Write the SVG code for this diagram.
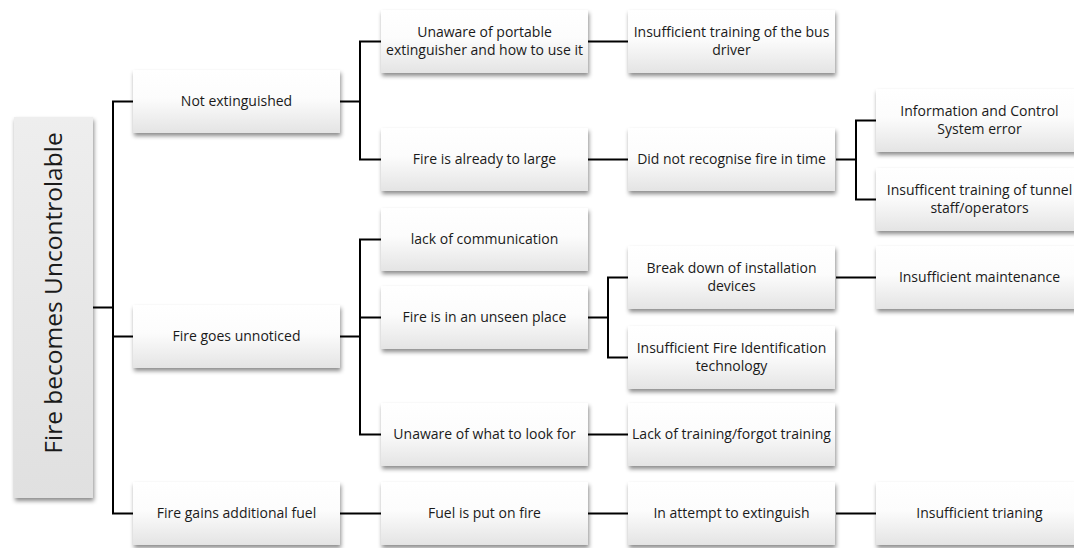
<svg xmlns="http://www.w3.org/2000/svg" width="1074" height="548" viewBox="0 0 1074 548">
<defs>
<linearGradient id="g" x1="0" y1="0" x2="0" y2="1">
<stop offset="0" stop-color="#ffffff"/>
<stop offset="0.45" stop-color="#fcfcfc"/>
<stop offset="1" stop-color="#e4e4e4"/>
</linearGradient>
<linearGradient id="gr" x1="0" y1="0" x2="0" y2="1">
<stop offset="0" stop-color="#eeeeee"/>
<stop offset="1" stop-color="#e0e0e0"/>
</linearGradient>
<filter id="sh" x="-10%" y="-20%" width="125%" height="150%">
<feDropShadow dx="1" dy="3" stdDeviation="2" flood-color="#000" flood-opacity="0.45"/>
</filter>
</defs>
<style>
.b{fill:url(#g);filter:url(#sh);}
.r{fill:url(#gr);filter:url(#sh);}
text{font-family:"Open Sans","Liberation Sans",sans-serif;font-size:14px;fill:#1a1a1a;text-anchor:middle;}
.rt{font-size:24.5px;}
.c{fill:none;stroke:#000;stroke-width:2;}
</style>
<rect width="1074" height="548" fill="#ffffff"/>
<g id="connectors">
<path class="c" d="M93,307.5 H113 M133,101.5 H113 V513.5 H133 M113,336.5 H133"/>
<path class="c" d="M340,101.5 H360 M381,41.5 H360 V159.5 H381"/>
<path class="c" d="M340,336.5 H360 M381,239.5 H360 V434.5 H381 M360,317.5 H381"/>
<path class="c" d="M340,513.5 H381"/>
<path class="c" d="M588,41.5 H628"/>
<path class="c" d="M588,159.5 H628"/>
<path class="c" d="M588,317.5 H608 M628,277.5 H608 V357.5 H628"/>
<path class="c" d="M588,434.5 H628"/>
<path class="c" d="M588,513.5 H628"/>
<path class="c" d="M836,159.5 H856 M876,120.5 H856 V199.5 H876"/>
<path class="c" d="M836,277.5 H876"/>
<path class="c" d="M836,513.5 H876"/>
</g>
<g id="root"><rect class="r" x="14" y="117" width="79" height="381"/><text class="rt" transform="translate(62,293) rotate(-90)">Fire becomes Uncontrolable</text></g>
<g id="n1"><rect class="b" x="133" y="70" width="207" height="63"/><text x="236.5" y="106">Not extinguished</text></g>
<g id="n2"><rect class="b" x="133" y="305" width="207" height="63"/><text x="236.5" y="341">Fire goes unnoticed</text></g>
<g id="n3"><rect class="b" x="133" y="482" width="207" height="63"/><text x="236.5" y="518">Fire gains additional fuel</text></g>
<g id="n4"><rect class="b" x="381" y="10" width="207" height="63"/><text x="484.5" y="37">Unaware of portable</text><text x="484.5" y="55">extinguisher and how to use it</text></g>
<g id="n5"><rect class="b" x="381" y="128" width="207" height="63"/><text x="484.5" y="164">Fire is already to large</text></g>
<g id="n6"><rect class="b" x="381" y="208" width="207" height="63"/><text x="484.5" y="244">lack of communication</text></g>
<g id="n7"><rect class="b" x="381" y="286" width="207" height="63"/><text x="484.5" y="322">Fire is in an unseen place</text></g>
<g id="n8"><rect class="b" x="381" y="403" width="207" height="63"/><text x="484.5" y="439">Unaware of what to look for</text></g>
<g id="n9"><rect class="b" x="381" y="482" width="207" height="63"/><text x="484.5" y="518">Fuel is put on fire</text></g>
<g id="n10"><rect class="b" x="628" y="10" width="207" height="63"/><text x="731.5" y="37">Insufficient training of the bus</text><text x="731.5" y="55">driver</text></g>
<g id="n11"><rect class="b" x="628" y="128" width="207" height="63"/><text x="731.5" y="164">Did not recognise fire in time</text></g>
<g id="n12"><rect class="b" x="628" y="246" width="207" height="63"/><text x="731.5" y="273">Break down of installation</text><text x="731.5" y="291">devices</text></g>
<g id="n13"><rect class="b" x="628" y="326" width="207" height="63"/><text x="731.5" y="353">Insufficient Fire Identification</text><text x="731.5" y="371">technology</text></g>
<g id="n14"><rect class="b" x="628" y="403" width="207" height="63"/><text x="731.5" y="439">Lack of training/forgot training</text></g>
<g id="n15"><rect class="b" x="628" y="482" width="207" height="63"/><text x="731.5" y="518">In attempt to extinguish</text></g>
<g id="n16"><rect class="b" x="876" y="89" width="207" height="63"/><text x="979.5" y="116">Information and Control</text><text x="979.5" y="134">System error</text></g>
<g id="n17"><rect class="b" x="876" y="168" width="207" height="63"/><text x="979.5" y="195">Insufficent training of tunnel</text><text x="979.5" y="213">staff/operators</text></g>
<g id="n18"><rect class="b" x="876" y="246" width="207" height="63"/><text x="979.5" y="282">Insufficient maintenance</text></g>
<g id="n19"><rect class="b" x="876" y="482" width="207" height="63"/><text x="979.5" y="518">Insufficient trianing</text></g>
</svg>
